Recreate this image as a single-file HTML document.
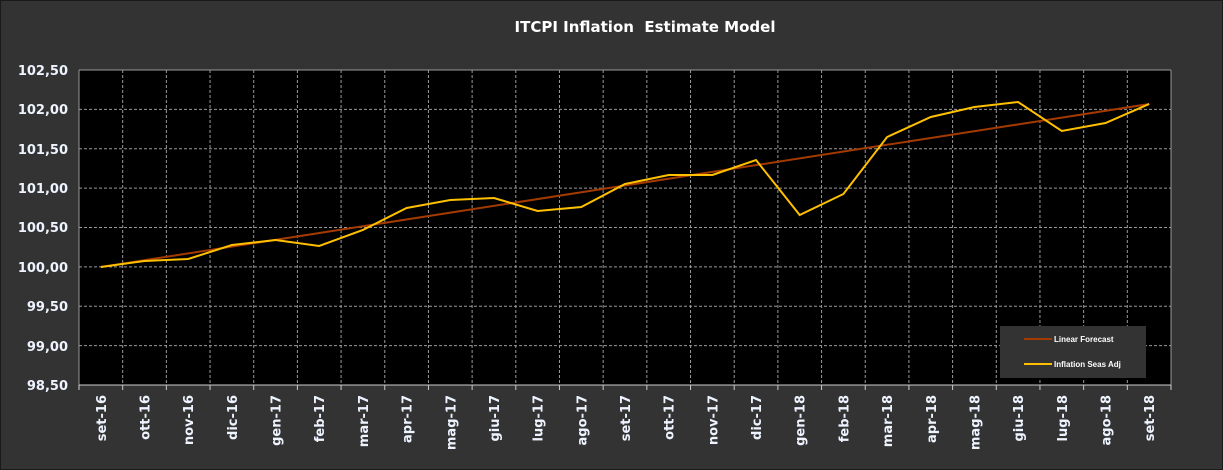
<!DOCTYPE html>
<html><head><meta charset="utf-8"><style>
html,body{margin:0;padding:0;background:#333;}
svg{display:block;font-family:"DejaVu Sans","Liberation Sans",sans-serif;}
</style></head><body>
<svg width="1223" height="470" viewBox="0 0 1223 470">
<rect x="0.5" y="0.5" width="1222" height="469" fill="#333333" stroke="#1a1a1a"/>
<text x="645" y="32" fill="#fff" font-size="15" font-weight="bold" text-anchor="middle" xml:space="preserve">ITCPI Inflation  Estimate Model</text>
<rect x="79" y="70" width="1092" height="315" fill="#000"/>
<g stroke="#9a9a9a" stroke-width="1" stroke-dasharray="3,2">
<line x1="79" x2="1171" y1="109.4" y2="109.4"/><line x1="79" x2="1171" y1="148.8" y2="148.8"/>
<line x1="79" x2="1171" y1="188.1" y2="188.1"/><line x1="79" x2="1171" y1="227.5" y2="227.5"/>
<line x1="79" x2="1171" y1="266.9" y2="266.9"/><line x1="79" x2="1171" y1="306.3" y2="306.3"/>
<line x1="79" x2="1171" y1="345.6" y2="345.6"/>
<g id="vg"></g>
</g>
<g stroke="#9a9a9a" fill="none"><line x1="79" y1="70" x2="1171" y2="70"/><line x1="1171" y1="70" x2="1171" y2="385"/><line x1="79" y1="70" x2="79" y2="385"/></g>
<g id="ax" stroke="#ccc"></g>
<g font-size="13" font-weight="bold" fill="#eef4ff" text-anchor="end">
<text x="68" y="75">102,50</text><text x="68" y="114">102,00</text><text x="68" y="154">101,50</text>
<text x="68" y="193">101,00</text><text x="68" y="232">100,50</text><text x="68" y="272">100,00</text>
<text x="68" y="311">99,50</text><text x="68" y="351">99,00</text><text x="68" y="390">98,50</text>
</g>
<g id="xl" font-size="13" font-weight="bold" fill="#eef4ff" text-anchor="end"></g>
<polyline points="100.8,267 1149.2,104" stroke="#a33a00" stroke-width="2" fill="none"/>
<polyline id="yl" stroke="#ffc000" stroke-width="2" fill="none" points=""/>
<rect x="1000" y="326" width="146" height="52" fill="#333"/>
<line x1="1024" y1="339" x2="1052" y2="339" stroke="#a33a00" stroke-width="2"/>
<line x1="1024" y1="364" x2="1052" y2="364" stroke="#ffc000" stroke-width="2"/>
<text x="1054" y="342" fill="#fff" font-size="8" font-family="Liberation Sans" font-weight="bold">Linear Forecast</text>
<text x="1054" y="367" fill="#fff" font-size="8" font-family="Liberation Sans" font-weight="bold">Inflation Seas Adj</text>
</svg>
<script>
var ns="http://www.w3.org/2000/svg",w=43.68,L=79;
var labs=["set-16","ott-16","nov-16","dic-16","gen-17","feb-17","mar-17","apr-17","mag-17","giu-17","lug-17","ago-17","set-17","ott-17","nov-17","dic-17","gen-18","feb-18","mar-18","apr-18","mag-18","giu-18","lug-18","ago-18","set-18"];
var ys=[267,261,259,245,240,246,230,208,200,198,211,207,184,175,175,160,215,194,137,117,107,102,131,123,104];
var vg=document.getElementById("vg"),ax=document.getElementById("ax"),xl=document.getElementById("xl"),pts=[];
for(var i=0;i<=25;i++){var x=L+i*w;
 if(i>0&&i<25){var l=document.createElementNS(ns,"line");l.setAttribute("x1",x);l.setAttribute("x2",x);l.setAttribute("y1",70);l.setAttribute("y2",385);vg.appendChild(l);}
 var t=document.createElementNS(ns,"line");t.setAttribute("x1",x);t.setAttribute("x2",x);t.setAttribute("y1",385);t.setAttribute("y2",390);ax.appendChild(t);}
var a=document.createElementNS(ns,"line");a.setAttribute("x1",L);a.setAttribute("x2",1171);a.setAttribute("y1",385);a.setAttribute("y2",385);ax.appendChild(a);
for(var i=0;i<25;i++){var cx=L+w/2+i*w;pts.push(cx.toFixed(1)+","+ys[i]);
 var tx=document.createElementNS(ns,"text");tx.setAttribute("transform","translate("+(cx+5)+",395) rotate(-90)");tx.textContent=labs[i];xl.appendChild(tx);}
document.getElementById("yl").setAttribute("points",pts.join(" "));
</script>
</body></html>
